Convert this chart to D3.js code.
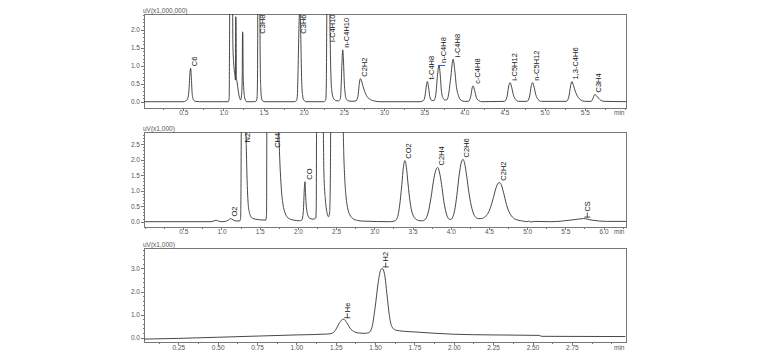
<!DOCTYPE html>
<html lang="en">
<head>
<meta charset="UTF-8">
<title>Chromatogram</title>
<script src="https://cdn.jsdelivr.net/npm/d3@7"></script>
<style>
  body{margin:0;background:#fff;}
  .axis text{font-family:"Liberation Sans",Arial,sans-serif;font-size:6.5px;fill:#555;}
  .axis path,.axis line{stroke:#777;fill:none;shape-rendering:crispEdges;}
  .frame{fill:none;stroke:#777;shape-rendering:crispEdges;}
  .trace{fill:none;stroke:#333;stroke-width:0.9;}
  .peak{font-family:"Liberation Sans",Arial,sans-serif;font-size:7.5px;fill:#111;}
  .unit,.minlab{font-family:"Liberation Sans",Arial,sans-serif;font-size:6.5px;fill:#555;}
  .mark{stroke:#222;stroke-width:0.8;}
</style>
</head>
<body>
<div id="container"></div>
<script>
// ---- panel 1 : FID, uV x1,000,000
var trace1 = [
  [0.0,0],[0.50,0],[0.53,0.02],[0.55,0.06],[0.57,0.3],[0.585,0.85],[0.592,0.93],[0.60,0.7],[0.61,0.25],[0.625,0.06],[0.65,0.01],[0.70,0],
  [1.00,0],[1.060,0],[1.072,0.1],[1.076,1.5],[1.080,3.2],[1.112,3.2],[1.118,1.6],[1.130,1.0],[1.145,0.7],[1.150,0.6],[1.153,2.36],[1.157,2.3],[1.161,0.7],
  [1.170,0.55],[1.185,0.3],[1.200,0.12],[1.215,0.05],[1.228,0.25],[1.235,0.8],[1.238,1.94],[1.242,1.9],[1.246,0.75],[1.252,0.4],[1.262,0.15],[1.275,0.04],[1.29,0],
  [1.38,0],[1.41,0.02],[1.42,0.15],[1.425,0.8],[1.430,3.2],[1.452,3.2],[1.458,1.2],[1.465,0.4],[1.475,0.1],[1.49,0.02],[1.52,0],
  [1.88,0],[1.91,0.03],[1.92,0.15],[1.93,0.9],[1.94,2.0],[1.952,2.6],[1.962,2.0],[1.972,0.8],[1.985,0.2],[2.00,0.05],[2.03,0],
  [2.25,0],[2.275,0.05],[2.282,0.6],[2.288,2.5],[2.292,3.2],[2.322,3.2],[2.328,2.0],[2.338,0.8],[2.35,0.3],[2.37,0.1],[2.40,0.03],[2.43,0.02],
  [2.455,0.08],[2.465,0.35],[2.475,1.0],[2.486,1.44],[2.496,1.1],[2.505,0.55],[2.515,0.25],[2.53,0.08],[2.56,0.02],[2.60,0.01],
  [2.65,0.02],[2.675,0.15],[2.69,0.45],[2.705,0.64],[2.72,0.58],[2.74,0.42],[2.76,0.28],[2.79,0.14],[2.83,0.06],[2.88,0.02],[2.95,0],
  [3.45,0],[3.49,0.03],[3.51,0.15],[3.53,0.48],[3.54,0.56],[3.555,0.4],[3.57,0.15],[3.59,0.04],
  [3.62,0.03],[3.645,0.2],[3.665,0.7],[3.685,1.02],[3.70,0.75],[3.715,0.3],[3.735,0.1],[3.76,0.05],[3.78,0.05],
  [3.80,0.15],[3.83,0.65],[3.86,1.18],[3.88,0.9],[3.90,0.45],[3.93,0.15],[3.96,0.04],[4.0,0.01],
  [4.05,0.01],[4.08,0.15],[4.10,0.40],[4.11,0.44],[4.13,0.3],[4.15,0.12],[4.18,0.03],[4.22,0],
  [4.50,0.01],[4.53,0.12],[4.555,0.45],[4.57,0.53],[4.59,0.4],[4.61,0.2],[4.64,0.06],[4.68,0.01],
  [4.78,0.01],[4.81,0.12],[4.835,0.45],[4.85,0.53],[4.87,0.4],[4.89,0.2],[4.92,0.06],[4.96,0.01],
  [5.27,0.01],[5.30,0.12],[5.325,0.45],[5.34,0.56],[5.36,0.45],[5.38,0.3],[5.41,0.15],[5.45,0.05],[5.50,0.01],
  [5.58,0.01],[5.60,0.08],[5.625,0.2],[5.645,0.17],[5.67,0.1],[5.70,0.04],[5.74,0.01],[6.02,0]
];
var names1   = ["C6","C3H8","C3H6","i-C4H10","n-C4H10","C2H2","t-C4H8","n-C4H8","i-C4H8","c-C4H8","i-C5H12","n-C5H12","1,3-C4H6","C3H4"];
var times1   = [0.592,1.441,1.952,2.305,2.486,2.705,3.54,3.685,3.86,4.11,4.57,4.85,5.34,5.625];
var heights1 = [0.93,3.2,2.6,3.2,1.44,0.64,0.56,1.02,1.18,0.44,0.53,0.53,0.56,0.2];
var marks1   = [0,0,0,0,0,0,0,0,0,0,0,0,0,0];
var xTicks1  = [0.5,1.0,1.5,2.0,2.5,3.0,3.5,4.0,4.5,5.0,5.5];
var yTicks1  = [0.0,0.5,1.0,1.5,2.0];

// ---- panel 2 : TCD, uV x1,000
var trace2 = [
  [0.0,0],[0.85,0],[0.90,0.02],[0.93,0.05],[0.96,0.02],[1.00,0],[1.05,0.01],[1.09,0.05],[1.12,0.1],[1.15,0.06],[1.20,0.02],[1.24,0.03],
  [1.250,0.1],[1.255,1.0],[1.26,3.2],[1.315,3.2],[1.322,2.7],[1.33,1.8],[1.34,1.0],[1.35,0.55],[1.365,0.3],[1.38,0.18],[1.40,0.12],[1.45,0.08],[1.50,0.06],[1.58,0.05],
  [1.590,0.3],[1.594,3.2],[1.745,3.2],[1.755,2.5],[1.77,1.6],[1.785,1.0],[1.805,0.55],[1.83,0.3],[1.86,0.15],[1.90,0.08],[1.95,0.05],[2.02,0.03],
  [2.05,0.05],[2.07,0.3],[2.085,1.1],[2.093,1.29],[2.10,0.9],[2.11,0.5],[2.125,0.25],[2.15,0.12],[2.20,0.08],
  [2.235,0.12],[2.24,0.5],[2.245,3.2],[2.33,3.2],[2.34,1.6],[2.36,0.7],[2.38,0.3],[2.40,0.16],
  [2.415,0.3],[2.425,1.5],[2.43,3.2],[2.59,3.2],[2.60,2.2],[2.615,1.3],[2.63,0.8],[2.65,0.45],[2.68,0.22],[2.72,0.1],[2.78,0.04],[2.85,0.02],[3.2,0],
  [3.26,0.02],[3.30,0.12],[3.33,0.5],[3.36,1.2],[3.38,1.75],[3.40,1.97],[3.42,1.75],[3.44,1.25],[3.47,0.6],[3.50,0.25],[3.55,0.07],[3.60,0.03],[3.63,0.03],
  [3.66,0.06],[3.70,0.25],[3.74,0.75],[3.78,1.4],[3.81,1.7],[3.83,1.75],[3.85,1.62],[3.88,1.2],[3.91,0.65],[3.94,0.28],[3.97,0.1],[4.00,0.07],
  [4.02,0.12],[4.05,0.35],[4.08,0.85],[4.11,1.5],[4.14,1.93],[4.16,2.01],[4.18,1.9],[4.21,1.45],[4.24,0.9],[4.28,0.4],[4.32,0.16],[4.36,0.1],
  [4.40,0.1],[4.45,0.16],[4.50,0.33],[4.55,0.7],[4.59,1.07],[4.62,1.24],[4.64,1.26],[4.66,1.2],[4.69,0.95],[4.73,0.55],[4.77,0.28],[4.82,0.12],[4.88,0.05],[4.95,0.02],[5.0,0],
  [5.02,0.02],[5.05,-0.01],[5.1,0.01],[5.3,0],[5.45,0.02],[5.6,0.06],[5.735,0.1],[5.85,0.05],[5.95,0.02],[6.05,0.01],[6.30,0.01]
];
var names2   = ["O2","N2","CH4","CO","CO2","C2H4","C2H6","C2H2","CS"];
var times2   = [1.12,1.29,1.68,2.093,3.40,3.83,4.16,4.64,5.735];
var heights2 = [0.1,3.2,3.2,1.29,1.97,1.75,2.01,1.26,0.1];
var marks2   = [0,0,0,0,0,0,0,0,1];
var xTicks2  = [0.5,1.0,1.5,2.0,2.5,3.0,3.5,4.0,4.5,5.0,5.5,6.0];
var yTicks2  = [0.0,0.5,1.0,1.5,2.0,2.5];

// ---- panel 3 : TCD (H2/He), uV x1,000
var trace3 = [
  [0.03,-0.06],[0.25,-0.03],[0.5,0.02],[0.75,0.07],[1.0,0.12],[1.2,0.16],[1.23,0.2],[1.25,0.35],[1.27,0.6],[1.29,0.78],[1.30,0.8],
  [1.32,0.65],[1.34,0.42],[1.37,0.25],[1.40,0.2],[1.43,0.19],[1.46,0.22],[1.48,0.45],[1.50,1.3],[1.52,2.4],[1.535,2.93],[1.545,3.0],
  [1.56,2.75],[1.575,1.9],[1.59,1.0],[1.605,0.5],[1.63,0.33],[1.68,0.28],[1.75,0.25],[2.0,0.15],[2.25,0.12],[2.54,0.1],[2.56,0.06],[3.09,0.05]
];
var names3   = ["He","H2"];
var times3   = [1.298,1.542];
var heights3 = [0.8,3.0];
var marks3   = [1,1];
var xTicks3  = [0.25,0.50,0.75,1.00,1.25,1.50,1.75,2.00,2.25,2.50,2.75];
var yTicks3  = [0.0,1.0,2.0,3.0];

var width = 757, height = 352;
var left = 144, right = 626.5;

var svg = d3.select("#container").append("svg")
  .attr("width", width).attr("height", height);

var panels = [
  {top:14, bottom:108.3, xd:[0.011,6.02], yd:[-0.183,2.436], trace:trace1, names:names1, times:times1, heights:heights1, marks:marks1,
   xt:xTicks1, yt:yTicks1, xf:".1f", unit:"uV(x1,000,000)", xm:0.25, ym:0.1},
  {top:132.3, bottom:227, xd:[-0.014,6.30], yd:[-0.171,2.884], trace:trace2, names:names2, times:times2, heights:heights2, marks:marks2,
   xt:xTicks2, yt:yTicks2, xf:".1f", unit:"uV(x1,000)", xm:0.25, ym:0.1},
  {top:248.3, bottom:342.7, xd:[0.032,3.097], yd:[-0.216,3.87], trace:trace3, names:names3, times:times3, heights:heights3, marks:marks3,
   xt:xTicks3, yt:yTicks3, xf:".2f", unit:"uV(x1,000)", xm:0.125, ym:0.2}
];

panels.forEach(function(p, i) {
  var x = d3.scaleLinear().domain(p.xd).range([left, right]);
  var y = d3.scaleLinear().domain(p.yd).range([p.bottom, p.top]);
  var g = svg.append("g");

  // minor ticks
  var xMinor = d3.range(Math.ceil(p.xd[0] / p.xm) * p.xm, p.xd[1], p.xm);
  var yMinor = d3.range(0, p.yd[1], p.ym);
  g.append("g").attr("class", "axis")
    .attr("transform", "translate(0," + p.bottom + ")")
    .call(d3.axisBottom(x).tickValues(xMinor).tickSize(1.5).tickFormat(""))
    .select(".domain").remove();
  g.append("g").attr("class", "axis")
    .attr("transform", "translate(" + left + ",0)")
    .call(d3.axisLeft(y).tickValues(yMinor).tickSize(1.5).tickFormat(""))
    .select(".domain").remove();

  // major ticks
  g.append("g").attr("class", "axis")
    .attr("transform", "translate(0," + p.bottom + ")")
    .call(d3.axisBottom(x).tickValues(p.xt).tickSize(2.5).tickPadding(0).tickFormat(d3.format(p.xf)))
    .select(".domain").remove();
  g.append("g").attr("class", "axis")
    .attr("transform", "translate(" + left + ",0)")
    .call(d3.axisLeft(y).tickValues(p.yt).tickSize(3).tickPadding(1).tickFormat(d3.format(".1f")))
    .select(".domain").remove();

  g.append("rect").attr("class", "frame")
    .attr("x", left).attr("y", p.top)
    .attr("width", right - left).attr("height", p.bottom - p.top);

  g.append("text").attr("class", "unit")
    .attr("x", left - 1).attr("y", p.top - 1.5).text(p.unit);
  g.append("text").attr("class", "minlab")
    .attr("x", right - 2).attr("y", p.bottom + 2.5).attr("dy", "0.71em")
    .attr("text-anchor", "end").text("min");

  // trace, clipped to the plot box
  svg.append("clipPath").attr("id", "clip" + i)
    .append("rect").attr("x", left).attr("y", p.top)
    .attr("width", right - left).attr("height", p.bottom - p.top);

  var line = d3.line().x(function(d) { return x(d[0]); })
    .y(function(d) { return y(d[1]); })
    .curve(d3.curveMonotoneX);

  g.append("path").datum(p.trace)
    .attr("class", "trace")
    .attr("clip-path", "url(#clip" + i + ")")
    .attr("d", line);

  // peak labels
  p.names.forEach(function(name, k) {
    var px = x(p.times[k]) + 4;
    var py = y(p.heights[k]);
    var gap = p.marks[k] ? 7 : 2;
    var t = g.append("text").attr("class", "peak")
      .attr("dominant-baseline", "central")
      .text(name);
    var len = t.node().getComputedTextLength();
    var sy = Math.max(py - gap, p.top + len + 0.5);
    t.attr("transform", "translate(" + px + "," + sy + ") rotate(-90)");
    if (p.marks[k]) {
      g.append("line").attr("class", "mark")
        .attr("x1", px).attr("x2", px).attr("y1", py - 1).attr("y2", py - 6);
      g.append("line").attr("class", "mark")
        .attr("x1", px - 3).attr("x2", px + 3).attr("y1", py - 1.5).attr("y2", py - 1.5);
    }
    // blue baseline flag on n-C4H8
    if (name === "n-C4H8") {
      g.append("line").attr("stroke", "#3355ee").attr("stroke-width", 1)
        .attr("x1", x(p.times[k]) - 1).attr("x2", x(p.times[k]) + 6)
        .attr("y1", py + 0.5).attr("y2", py + 0.5);
    }
  });
});
</script>
</body>
</html>
